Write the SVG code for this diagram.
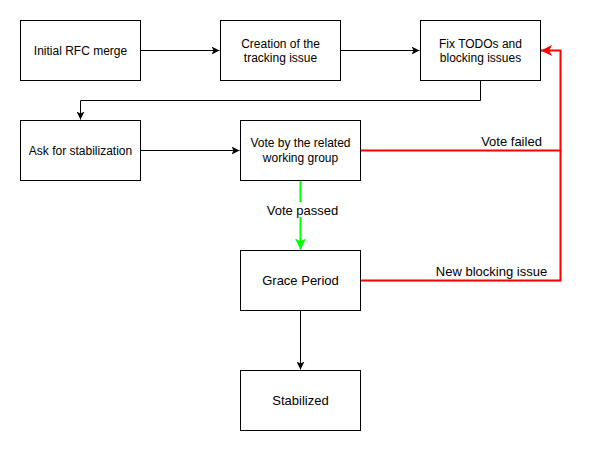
<svg xmlns="http://www.w3.org/2000/svg" width="590" height="451" viewBox="0 0 590 451">
<style>
.box{fill:#fff;stroke:#000;stroke-width:1}
text{font-family:"Liberation Sans",Arial,sans-serif;font-size:12px;fill:#000}
.c{text-anchor:middle}
.l{font-size:13px}
.blk{fill:none;stroke:#000;stroke-width:1}
.red{fill:none;stroke:#ff0000;stroke-width:2}
.grn{fill:none;stroke:#00ff00;stroke-width:2}
</style>
<defs>
<marker id="ab" markerUnits="userSpaceOnUse" viewBox="0 0 8 8" markerWidth="8" markerHeight="8" refX="8" refY="4" orient="auto">
<path d="M0,0 L8,4 L0,8 L2,4 z" fill="#000"/>
</marker>
<marker id="ar" markerUnits="userSpaceOnUse" viewBox="0 0 10 10" markerWidth="11" markerHeight="11" refX="10" refY="5" orient="auto">
<path d="M0,0 L10,5 L0,10 L2.5,5 z" fill="#ff0000"/>
</marker>
<marker id="ag" markerUnits="userSpaceOnUse" viewBox="0 0 10 10" markerWidth="11" markerHeight="11" refX="10" refY="5" orient="auto">
<path d="M0,0 L10,5 L0,10 L2.5,5 z" fill="#00ff00"/>
</marker>
</defs>
<rect width="590" height="451" fill="#fff"/>
<g id="connectors">
<path class="blk" d="M140.5,50.5 H219.5" marker-end="url(#ab)"/>
<path class="blk" d="M340.5,50.5 H419.5" marker-end="url(#ab)"/>
<path class="blk" d="M480.5,80.5 V100.5 H80.5 V119.5" marker-end="url(#ab)"/>
<path class="blk" d="M140.5,150.5 H239.5" marker-end="url(#ab)"/>
<path class="blk" d="M300.5,310.5 V369.5" marker-end="url(#ab)"/>
<path class="grn" d="M300.5,180.5 V249.5" marker-end="url(#ag)"/>
<rect x="265" y="202" width="75" height="15" fill="#fff"/>
<text class="c l" x="302.5" y="215">Vote passed</text>
<path class="red" d="M360.5,150.5 H560.5 V50.5 H541" marker-end="url(#ar)"/>
<path class="red" d="M360.5,280.5 H560.5 V150.5"/>
<text class="c l" x="511.5" y="146">Vote failed</text>
<text class="c l" x="491.5" y="276">New blocking issue</text>
</g>
<g id="n1">
<rect class="box" x="20.5" y="20.5" width="120" height="60"/>
<text class="c" x="80.5" y="54.5">Initial RFC merge</text>
</g>
<g id="n2">
<rect class="box" x="220.5" y="20.5" width="120" height="60"/>
<text class="c" x="280.5" y="47.5">Creation of the</text>
<text class="c" x="280.5" y="62">tracking issue</text>
</g>
<g id="n3">
<rect class="box" x="420.5" y="20.5" width="120" height="60"/>
<text class="c" x="480.5" y="47.5">Fix TODOs and</text>
<text class="c" x="480.5" y="62">blocking issues</text>
</g>
<g id="n4">
<rect class="box" x="20.5" y="120.5" width="120" height="60"/>
<text class="c" x="80.5" y="154.5">Ask for stabilization</text>
</g>
<g id="n5">
<rect class="box" x="240.5" y="120.5" width="120" height="60"/>
<text class="c" x="300.5" y="147">Vote by the related</text>
<text class="c" x="300.5" y="161.5">working group</text>
</g>
<g id="n6">
<rect class="box" x="240.5" y="250.5" width="120" height="60"/>
<text class="c l" x="300.5" y="285">Grace Period</text>
</g>
<g id="n7">
<rect class="box" x="240.5" y="370.5" width="120" height="60"/>
<text class="c l" x="300.5" y="405">Stabilized</text>
</g>
</svg>
